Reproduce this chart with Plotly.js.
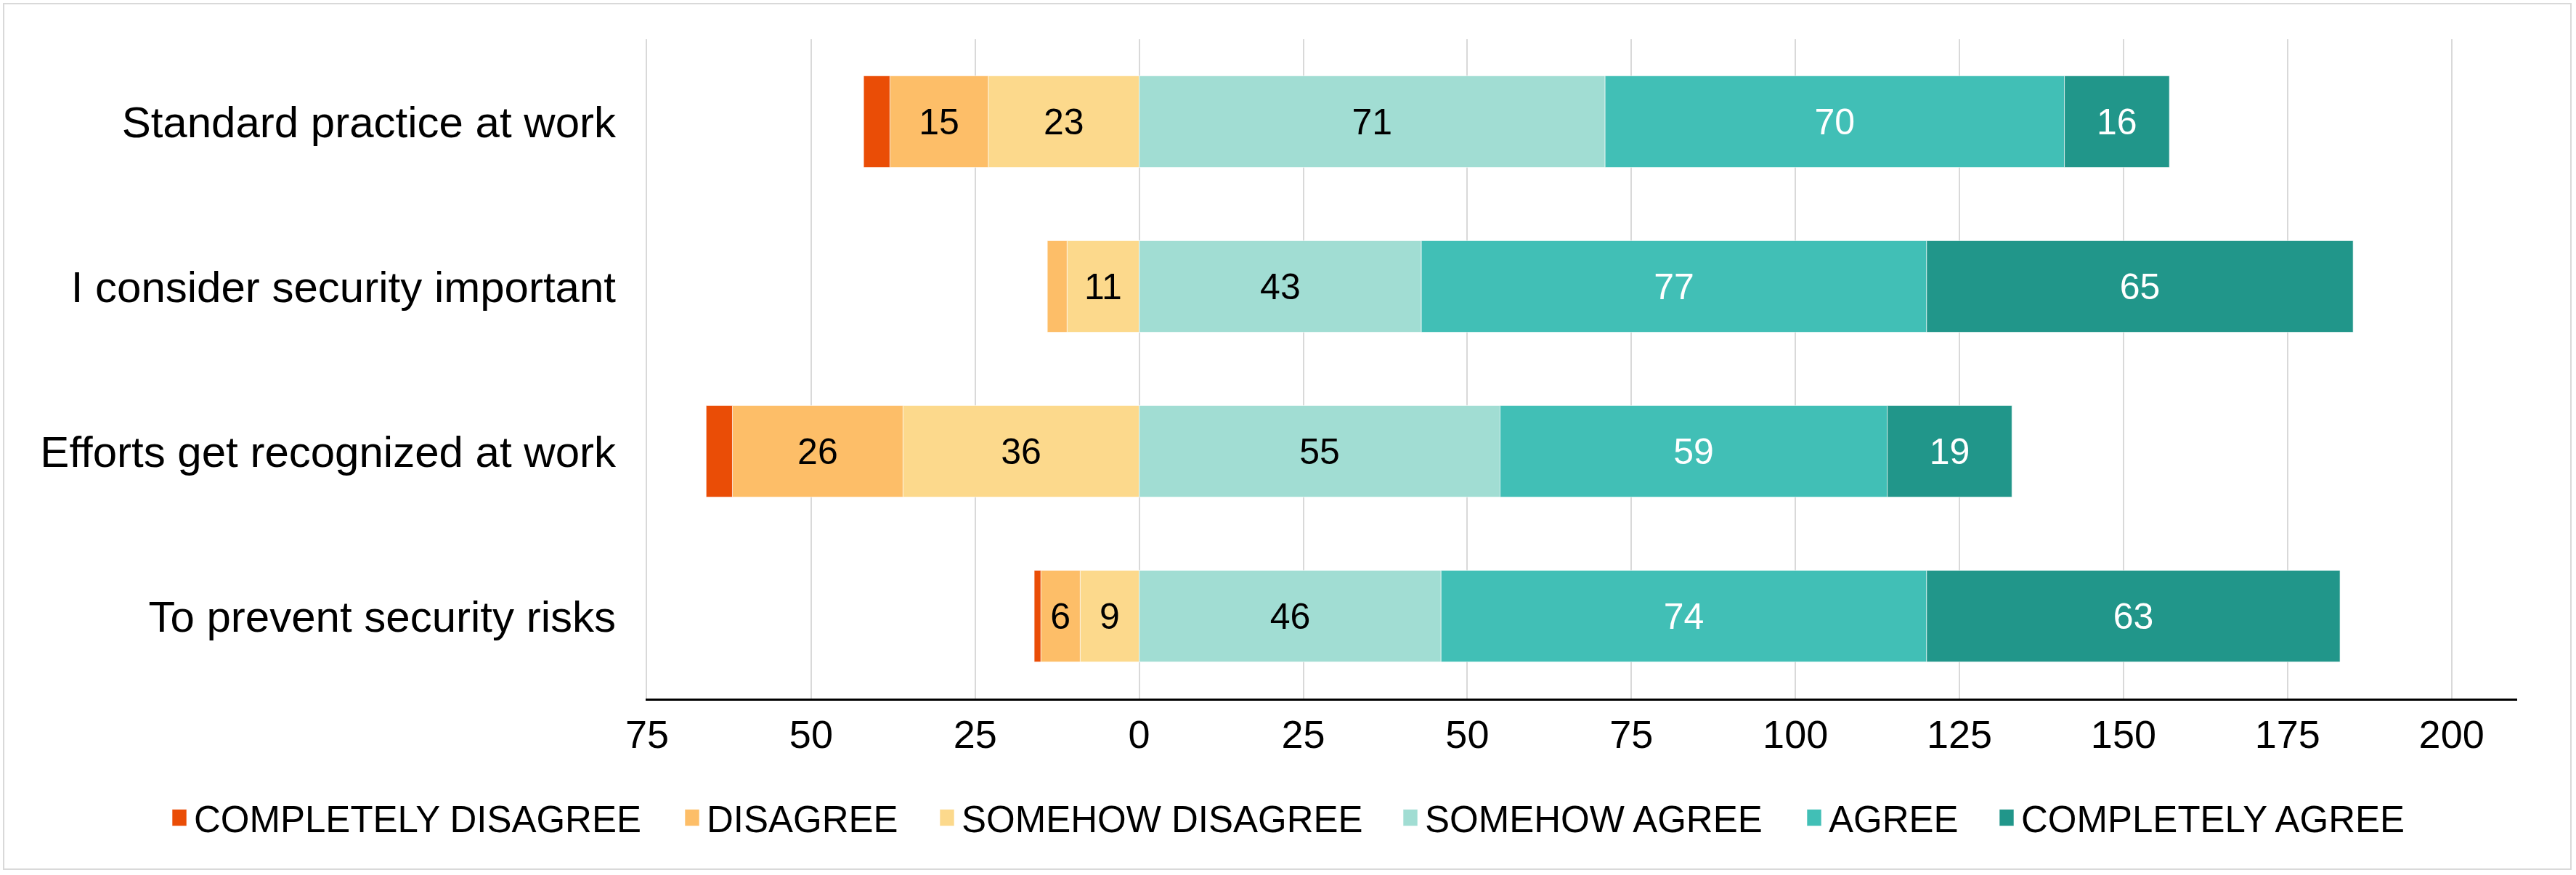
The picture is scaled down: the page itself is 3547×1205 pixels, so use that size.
<!DOCTYPE html>
<html>
<head>
<meta charset="utf-8">
<script src="https://cdn.plot.ly/plotly-3.0.1.min.js"></script>
<style>
  html, body { margin: 0; padding: 0; background: #ffffff; }
  #wrap { position: relative; width: 3547px; height: 1205px; }
  #chart { position: absolute; left: 0; top: 0; width: 3547px; height: 1205px; }
  #frame { position: absolute; left: 4px; top: 4px; width: 3533px; height: 1190px;
           border: 2px solid #d9d9d9; pointer-events: none; }
</style>
</head>
<body>
<div id="wrap">
  <div id="chart"></div>
  <div id="frame"></div>
</div>
<script>
// ---- data ----
const categories = [
  "Standard practice at work",
  "I consider security important",
  "Efforts get recognized at work",
  "To prevent security risks"
];
const completelyDisagree = [4, 0, 4, 1];
const disagree           = [15, 3, 26, 6];
const somehowDisagree    = [23, 11, 36, 9];
const somehowAgree       = [71, 43, 55, 46];
const agree              = [70, 77, 59, 74];
const completelyAgree    = [16, 65, 19, 63];

const seriesNames = ["COMPLETELY DISAGREE", "DISAGREE", "SOMEHOW DISAGREE",
                     "SOMEHOW AGREE", "AGREE", "COMPLETELY AGREE"];
const xTickVals = [-75, -50, -25, 0, 25, 50, 75, 100, 125, 150, 175, 200];
const xTickText = ["75", "50", "25", "0", "25", "50", "75", "100", "125", "150", "175", "200"];

// ---- styling ----
const FONT = "Liberation Sans, Arial, Helvetica, sans-serif";
const colors = {
  cd: "#ea4d06", d: "#fdbe68", sd: "#fcd98c",
  sa: "#a1ddd3", a: "#41bfb6", ca: "#21968a"
};

// plot-area geometry (pixels) used to place the legend entries
const PLOT_L = 891, PLOT_R = 81, PLOT_T = 54, PLOT_B = 243, W = 3547, H = 1205;
const PLOT_W = W - PLOT_L - PLOT_R;
// left pixel edge of each legend entry box, in legend order
const legendLeftPx = [227, 933, 1284, 1922, 2478, 2743];

function labels(vals) { return vals.map(v => (v >= 5 ? String(v) : "")); }
function neg(vals) { return vals.map(v => -v); }

function barTrace(name, xvals, rawVals, color, textColor, legendIdx) {
  return {
    type: "bar",
    orientation: "h",
    name: name,
    y: categories,
    x: xvals,
    text: labels(rawVals),
    textposition: "inside",
    insidetextanchor: "middle",
    constraintext: "none",
    textfont: { family: FONT, size: 50, color: textColor },
    marker: { color: color, line: { color: "rgba(255,255,255,0.6)", width: 1 } },
    legend: legendIdx === 0 ? "legend" : "legend" + (legendIdx + 1),
    hoverinfo: "skip"
  };
}

// negative side is stacked outward from zero in trace order
const data = [
  barTrace(seriesNames[2], neg(somehowDisagree), somehowDisagree, colors.sd, "#000000", 2),
  barTrace(seriesNames[1], neg(disagree), disagree, colors.d, "#000000", 1),
  barTrace(seriesNames[0], neg(completelyDisagree), completelyDisagree, colors.cd, "#000000", 0),
  barTrace(seriesNames[3], somehowAgree, somehowAgree, colors.sa, "#000000", 3),
  barTrace(seriesNames[4], agree, agree, colors.a, "#ffffff", 4),
  barTrace(seriesNames[5], completelyAgree, completelyAgree, colors.ca, "#ffffff", 5)
];

const layout = {
  width: W,
  height: H,
  margin: { l: PLOT_L, r: PLOT_R, t: PLOT_T, b: PLOT_B, pad: 0 },
  paper_bgcolor: "#ffffff",
  plot_bgcolor: "#ffffff",
  barmode: "relative",
  bargap: 0.444,
  showlegend: true,
  font: { family: FONT, color: "#000000" },
  xaxis: {
    range: [-75, 210],
    tickmode: "array",
    tickvals: xTickVals,
    ticktext: xTickText,
    showgrid: true,
    gridcolor: "#d9d9d9",
    gridwidth: 2,
    zeroline: true,
    zerolinecolor: "#d9d9d9",
    zerolinewidth: 2,
    showline: true,
    linecolor: "#000000",
    linewidth: 3,
    ticks: "",
    ticklabelstandoff: 0,
    tickfont: { family: FONT, size: 54, color: "#000000" },
    fixedrange: true
  },
  yaxis: {
    type: "category",
    categoryorder: "array",
    categoryarray: categories,
    autorange: "reversed",
    showgrid: false,
    zeroline: false,
    showline: true,
    linecolor: "#d9d9d9",
    linewidth: 2,
    ticks: "",
    ticklabelstandoff: 29,
    tickfont: { family: FONT, size: 60, color: "#000000" },
    fixedrange: true
  }
};

legendLeftPx.forEach(function (px, i) {
  const key = i === 0 ? "legend" : "legend" + (i + 1);
  layout[key] = {
    orientation: "h",
    x: (px - PLOT_L) / PLOT_W,
    xanchor: "left",
    y: -0.181,
    yanchor: "middle",
    font: { family: FONT, size: 51, color: "#000000" },
    itemwidth: 30,
    bgcolor: "rgba(0,0,0,0)"
  };
});

Plotly.newPlot("chart", data, layout, { displayModeBar: false, staticPlot: true }).then(function (gd) {
  // enlarge the small legend swatches to match the reference (20 x 23 px)
  gd.querySelectorAll(".legendpoints path").forEach(function (p) {
    p.setAttribute("d", "M10,11.5H-10V-11.5H10Z");
  });
});
</script>
</body>
</html>
